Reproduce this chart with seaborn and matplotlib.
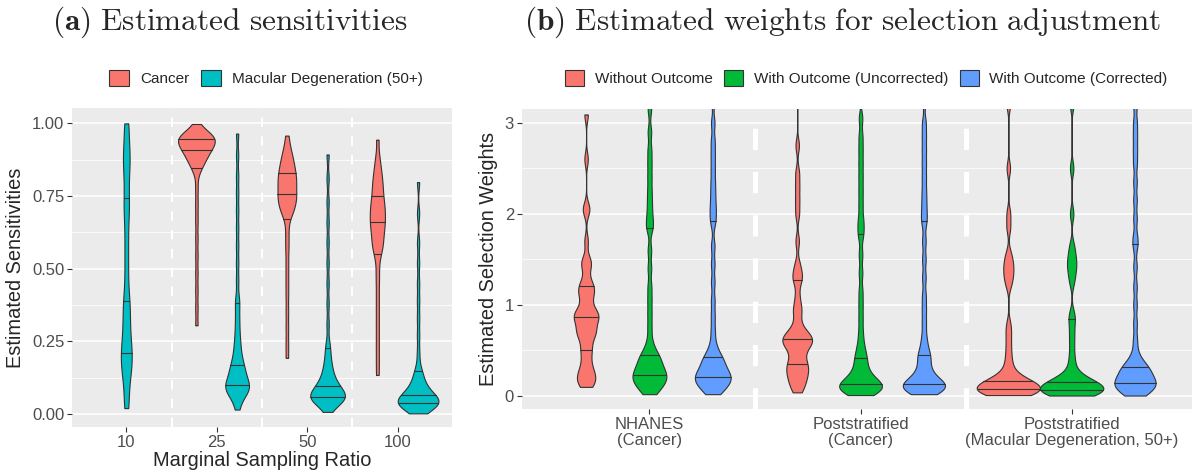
import numpy as np
import pandas as pd
import matplotlib.pyplot as plt
from matplotlib.ticker import MultipleLocator, FormatStrFormatter
import seaborn as sns

# ---- panel (a): estimated sensitivities ----
ratios = ["10", "25", "50", "100"]
diseases = ["Cancer", "Macular Degeneration (50+)"]
disease_colors = ["#F8766D", "#00BFC4"]

sens_md_10 = [0.02, 0.03, 0.07, 0.10, 0.12, 0.14, 0.155, 0.17, 0.18, 0.19, 0.205,
              0.22, 0.23, 0.245, 0.26, 0.28, 0.30, 0.32, 0.34, 0.36, 0.38,
              0.40, 0.43, 0.47, 0.51, 0.55, 0.59, 0.63, 0.67, 0.70, 0.72,
              0.75, 0.78, 0.81, 0.84, 0.86, 0.88, 0.90, 0.92, 0.95, 0.99, 1.0]
sens_cancer_25 = [0.305, 0.365, 0.425, 0.485, 0.545, 0.605, 0.665, 0.72, 0.775, 0.83,
                  0.85, 0.858, 0.866, 0.874, 0.881, 0.888, 0.894, 0.899, 0.904, 0.908,
                  0.912, 0.917, 0.921, 0.925, 0.929, 0.933, 0.937, 0.94, 0.943, 0.946,
                  0.949, 0.951, 0.953, 0.955, 0.957, 0.96, 0.963, 0.967, 0.975, 0.998]
sens_md_25 = [0.015, 0.04, 0.055, 0.065, 0.072, 0.078, 0.083, 0.087, 0.091, 0.095,
              0.099, 0.104, 0.11, 0.117, 0.124, 0.131, 0.139, 0.147, 0.156, 0.165,
              0.172, 0.185, 0.20, 0.215, 0.235, 0.255, 0.28, 0.31, 0.34, 0.375,
              0.40, 0.46, 0.52, 0.58, 0.64, 0.70, 0.76, 0.82, 0.89, 0.965]
sens_cancer_50 = [0.193, 0.245, 0.30, 0.355, 0.41, 0.46, 0.51, 0.56, 0.60, 0.64,
                  0.68, 0.69, 0.70, 0.709, 0.718, 0.726, 0.734, 0.741, 0.747, 0.752,
                  0.76, 0.768, 0.776, 0.784, 0.791, 0.798, 0.805, 0.812, 0.819, 0.826,
                  0.834, 0.842, 0.851, 0.86, 0.87, 0.88, 0.892, 0.906, 0.925, 0.958]
sens_md_50 = [0.007, 0.025, 0.034, 0.04, 0.044, 0.048, 0.051, 0.053, 0.055, 0.056,
              0.058, 0.061, 0.064, 0.068, 0.072, 0.076, 0.08, 0.085, 0.09, 0.095,
              0.10, 0.107, 0.115, 0.124, 0.134, 0.146, 0.16, 0.176, 0.195, 0.22,
              0.245, 0.31, 0.38, 0.45, 0.52, 0.59, 0.66, 0.73, 0.81, 0.893]
sens_cancer_100 = [0.134, 0.18, 0.225, 0.27, 0.315, 0.36, 0.405, 0.45, 0.49, 0.53,
                   0.556, 0.568, 0.58, 0.592, 0.604, 0.615, 0.626, 0.636, 0.646, 0.655,
                   0.663, 0.672, 0.681, 0.69, 0.699, 0.708, 0.717, 0.726, 0.736, 0.748,
                   0.76, 0.772, 0.784, 0.797, 0.81, 0.825, 0.842, 0.862, 0.89, 0.944]
sens_md_100 = [0.002, 0.012, 0.018, 0.022, 0.025, 0.028, 0.03, 0.032, 0.034, 0.036,
               0.038, 0.04, 0.042, 0.045, 0.048, 0.051, 0.054, 0.057, 0.06, 0.063,
               0.067, 0.072, 0.077, 0.083, 0.09, 0.098, 0.107, 0.117, 0.13, 0.143,
               0.16, 0.21, 0.27, 0.33, 0.39, 0.45, 0.52, 0.59, 0.69, 0.798]

# ---- panel (b): estimated selection weights ----
sources = ["NHANES\n(Cancer)", "Poststratified\n(Cancer)",
           "Poststratified\n(Macular Degeneration, 50+)"]
methods = ["Without Outcome", "With Outcome (Uncorrected)", "With Outcome (Corrected)"]
method_colors = ["#F8766D", "#00BA38", "#619CFF"]

w_nhanes_without = [0.10, 0.13, 0.16, 0.19, 0.22, 0.25, 0.29, 0.34, 0.41, 0.48,
                    0.52, 0.58, 0.65, 0.68, 0.70, 0.72, 0.75, 0.80, 0.84, 0.86,
                    0.87, 0.89, 0.91, 0.93, 0.96, 1.04, 1.09, 1.13, 1.17, 1.20,
                    1.22, 1.30, 1.42, 1.46, 1.50, 1.70, 2.03, 2.07, 2.60, 3.09]
w_nhanes_uncorr = [0.02, 0.05, 0.08, 0.11, 0.13, 0.15, 0.17, 0.19, 0.20, 0.21,
                   0.23, 0.25, 0.27, 0.29, 0.31, 0.33, 0.36, 0.39, 0.42, 0.44,
                   0.46, 0.52, 0.60, 0.75, 0.90, 1.05, 1.20, 1.40, 1.60, 1.83,
                   1.90, 2.00, 2.12, 2.25, 2.40, 2.55, 2.70, 2.90, 3.15, 3.60]
w_nhanes_corr = [0.02, 0.05, 0.08, 0.10, 0.12, 0.14, 0.16, 0.18, 0.19, 0.20,
                 0.21, 0.23, 0.25, 0.27, 0.29, 0.31, 0.34, 0.37, 0.40, 0.42,
                 0.44, 0.50, 0.58, 0.72, 0.88, 1.05, 1.25, 1.45, 1.65, 1.90,
                 2.00, 2.10, 2.22, 2.35, 2.50, 2.65, 2.80, 3.00, 3.25, 3.70]
w_post_cancer_without = [0.04, 0.09, 0.13, 0.17, 0.20, 0.23, 0.26, 0.29, 0.32, 0.34,
                         0.36, 0.40, 0.45, 0.50, 0.53, 0.56, 0.58, 0.60, 0.61, 0.62,
                         0.64, 0.66, 0.68, 0.71, 0.75, 0.85, 0.94, 0.98, 1.10, 1.26,
                         1.30, 1.36, 1.45, 1.70, 2.00, 2.15, 2.30, 2.45, 2.75, 3.40]
w_post_cancer_uncorr = [0.01, 0.03, 0.05, 0.06, 0.07, 0.08, 0.09, 0.10, 0.11, 0.12,
                        0.13, 0.14, 0.16, 0.18, 0.20, 0.23, 0.26, 0.30, 0.35, 0.40,
                        0.44, 0.50, 0.58, 0.70, 0.85, 1.00, 1.15, 1.35, 1.55, 1.75,
                        1.85, 1.95, 2.10, 2.25, 2.40, 2.55, 2.70, 2.85, 3.05, 3.50]
w_post_cancer_corr = [0.02, 0.04, 0.06, 0.07, 0.08, 0.09, 0.10, 0.11, 0.12, 0.123,
                      0.13, 0.15, 0.17, 0.19, 0.22, 0.25, 0.29, 0.34, 0.40, 0.44,
                      0.47, 0.55, 0.65, 0.80, 0.95, 1.10, 1.30, 1.50, 1.70, 1.90,
                      2.00, 2.12, 2.25, 2.40, 2.55, 2.70, 2.85, 3.00, 3.25, 3.70]
w_post_md_without = [0.01, 0.02, 0.03, 0.035, 0.04, 0.045, 0.05, 0.055, 0.06, 0.067,
                     0.075, 0.08, 0.09, 0.10, 0.11, 0.12, 0.13, 0.14, 0.15, 0.158,
                     0.165, 0.18, 0.20, 0.23, 0.28, 0.35, 0.44, 0.55, 0.67, 0.78,
                     1.22, 1.30, 1.36, 1.42, 1.48, 1.56, 1.85, 2.00, 2.50, 3.20]
w_post_md_uncorr = [0.005, 0.015, 0.025, 0.03, 0.035, 0.04, 0.045, 0.05, 0.055, 0.063,
                    0.07, 0.078, 0.086, 0.095, 0.105, 0.115, 0.125, 0.135, 0.145, 0.155,
                    0.16, 0.175, 0.195, 0.22, 0.27, 0.35, 0.45, 0.58, 0.70, 0.82,
                    0.90, 1.25, 1.35, 1.42, 1.48, 1.55, 1.65, 2.00, 2.50, 3.20]
w_post_md_corr = [0.005, 0.02, 0.04, 0.06, 0.08, 0.095, 0.11, 0.12, 0.13, 0.14,
                  0.15, 0.165, 0.18, 0.20, 0.22, 0.24, 0.26, 0.28, 0.30, 0.315,
                  0.33, 0.36, 0.40, 0.48, 0.62, 0.80, 1.00, 1.20, 1.42, 1.64,
                  1.75, 1.95, 2.15, 2.35, 2.55, 2.70, 2.85, 3.00, 3.20, 3.60]


def long_frame(groups, cols):
    return pd.DataFrame([(a, b, v) for a, b, vals in groups for v in vals], columns=cols)


df_a = long_frame([
    ("10", diseases[1], sens_md_10),
    ("25", diseases[0], sens_cancer_25), ("25", diseases[1], sens_md_25),
    ("50", diseases[0], sens_cancer_50), ("50", diseases[1], sens_md_50),
    ("100", diseases[0], sens_cancer_100), ("100", diseases[1], sens_md_100),
], ["ratio", "disease", "sensitivity"])

df_b = long_frame([
    (sources[0], methods[0], w_nhanes_without), (sources[0], methods[1], w_nhanes_uncorr),
    (sources[0], methods[2], w_nhanes_corr),
    (sources[1], methods[0], w_post_cancer_without), (sources[1], methods[1], w_post_cancer_uncorr),
    (sources[1], methods[2], w_post_cancer_corr),
    (sources[2], methods[0], w_post_md_without), (sources[2], methods[1], w_post_md_uncorr),
    (sources[2], methods[2], w_post_md_corr),
], ["source", "method", "weight"])


def fixed_bw(bw):
    # kde bandwidth in data units (scipy wants it as a factor of the sd)
    return lambda kde: bw / kde.dataset.std(ddof=1)


sns.set_theme(style="darkgrid", rc={"axes.facecolor": "#EBEBEB", "grid.color": "white"})
plt.rcParams["font.family"] = ["Liberation Sans", "DejaVu Sans"]
plt.rcParams["mathtext.fontset"] = "cm"

violin_kws = dict(saturation=1, cut=0, inner="quart", linecolor="#333333",
                  linewidth=0.8, gridsize=400)

fig = plt.figure(figsize=(11.92, 4.73), dpi=100)
ax1 = fig.add_axes([72 / 1192, 1 - 427 / 473, 380 / 1192, 319 / 473])
ax2 = fig.add_axes([521.7 / 1192, 1 - 409.3 / 473, 670.3 / 1192, 300.3 / 473])

# panel (a)
sns.violinplot(data=df_a[df_a.ratio != "10"], x="ratio", y="sensitivity", hue="disease",
               order=ratios, hue_order=diseases, palette=disease_colors, width=0.9,
               density_norm="area", common_norm=True, bw_method=fixed_bw(0.025),
               ax=ax1, **violin_kws)
sns.violinplot(data=df_a[df_a.ratio == "10"], x="ratio", y="sensitivity", order=ratios,
               color=disease_colors[1], width=0.12, bw_method=fixed_bw(0.04),
               legend=False, ax=ax1, **violin_kws)

# panel (b)
sns.violinplot(data=df_b, x="source", y="weight", hue="method", order=sources,
               hue_order=methods, palette=method_colors, width=0.9,
               density_norm="area", common_norm=True, bw_method=fixed_bw(0.075),
               ax=ax2, **violin_kws)

for ax in (ax1, ax2):
    for line in ax.lines:
        line.set_linestyle("-")
    ax.grid(False, axis="x")
    ax.grid(True, axis="y", which="major", color="white", linewidth=1.1)
    ax.grid(True, axis="y", which="minor", color="white", linewidth=0.55)
    ax.tick_params(axis="both", which="major", bottom=True, left=True, length=3.5,
                   width=0.8, color="#333333", labelcolor="#4D4D4D", labelsize=12, pad=2)
    ax.tick_params(axis="y", which="minor", left=False)
    for s in ax.spines.values():
        s.set_visible(False)

for x in [0.5, 1.5, 2.5]:
    ax1.axvline(x, color="white", linewidth=1.5, dashes=(4.5, 4.5))
for x in [0.5, 1.5]:
    ax2.axvline(x, color="white", linewidth=3.6, dashes=(4.25, 4.4))

ax1.set_xlim(-0.6, 3.6)
ax1.set_ylim(-0.045, 1.053)
ax1.yaxis.set_major_locator(MultipleLocator(0.25))
ax1.yaxis.set_minor_locator(MultipleLocator(0.125))
ax1.yaxis.set_major_formatter(FormatStrFormatter("%.2f"))
ax1.set_xlabel("Marginal Sampling Ratio", fontsize=14.4, labelpad=1)
ax1.set_ylabel("Estimated Sensitivities", fontsize=14.4, labelpad=5)

ax2.set_xlim(-0.605, 2.57)
ax2.set_ylim(-0.146, 3.15)
ax2.yaxis.set_major_locator(MultipleLocator(1))
ax2.yaxis.set_minor_locator(MultipleLocator(0.5))
ax2.set_xlabel("")
ax2.set_ylabel("Estimated Selection Weights", fontsize=14.4, labelpad=5)
for lbl in ax2.get_xticklabels():
    lbl.set_linespacing(1.05)

sns.move_legend(ax1, "center", bbox_to_anchor=(0.51, 1.094), ncol=2, title=None,
                frameon=False, fontsize=11, handlelength=1.35, handleheight=1.3,
                handletextpad=0.7, columnspacing=0.75)
sns.move_legend(ax2, "center", bbox_to_anchor=(0.514, 1.103), ncol=3, title=None,
                frameon=False, fontsize=11, handlelength=1.25, handleheight=1.3,
                handletextpad=0.7, columnspacing=0.75)

fig.text(230 / 1192, 1 - 22 / 473, r"$\mathbf{(a)}\ \mathrm{Estimated\ sensitivities}$",
         ha="center", va="center", fontsize=22.5)
fig.text(842 / 1192, 1 - 22 / 473,
         r"$\mathbf{(b)}\ \mathrm{Estimated\ weights\ for\ selection\ adjustment}$",
         ha="center", va="center", fontsize=22.5)

fig.savefig("out.png", dpi=100, facecolor="white")
